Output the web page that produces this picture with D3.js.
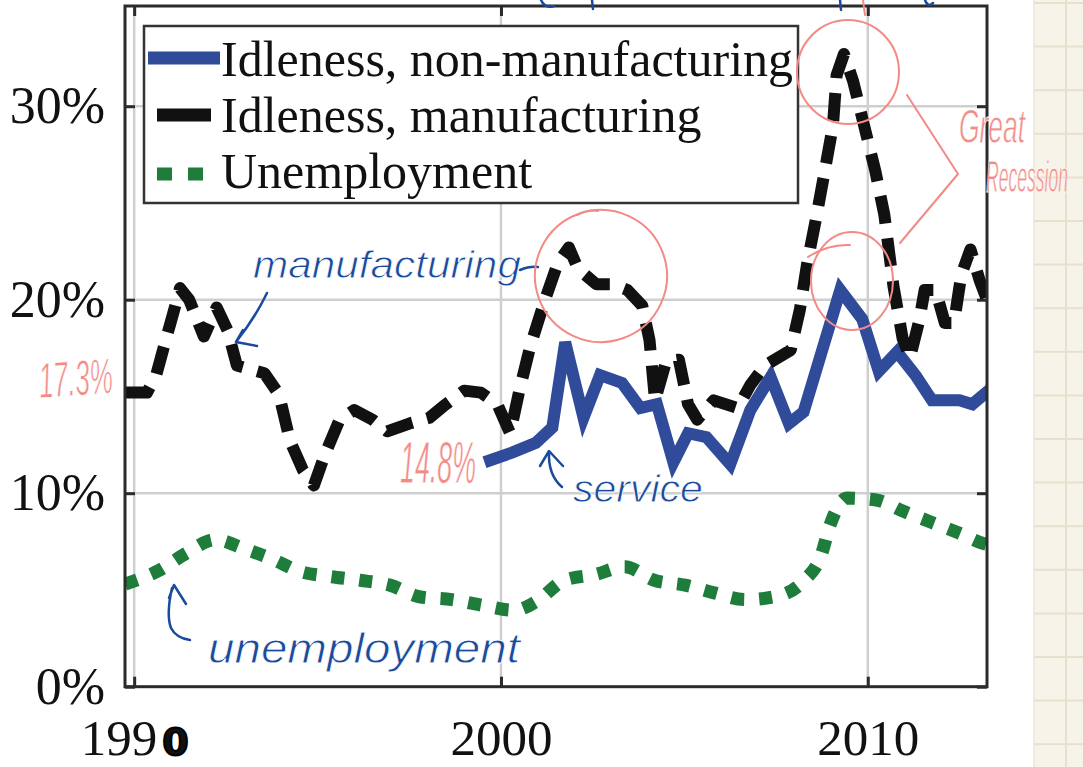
<!DOCTYPE html>
<html>
<head>
<meta charset="utf-8">
<script src="https://cdn.jsdelivr.net/npm/d3@7"></script>
<style>
  body { margin: 0; background: #fff; overflow: hidden; }
</style>
</head>
<body>
<div id="chart"></div>
<script>
const width = 1083;
const height = 767;

// data (year, percent)
const manufYears = [1989.75, 1990.35, 1990.6, 1990.8, 1991.05, 1991.25, 1991.5, 1991.9, 1992.25, 1992.55, 1992.8, 1993.55, 1993.95, 1994.25, 1994.6, 1994.9, 1995.2, 1995.6, 1996.0, 1996.5, 1996.9, 1997.5, 1998.05, 1998.5, 1999.0, 1999.45, 1999.9, 2000.25, 2000.5, 2000.8, 2001.2, 2001.55, 2001.85, 2002.1, 2002.6, 2003.05, 2003.45, 2003.85, 2004.05, 2004.2, 2004.5, 2004.85, 2005.1, 2005.35, 2005.8, 2006.45, 2006.8, 2007.2, 2007.9, 2008.15, 2008.35, 2008.6, 2008.85, 2009.05, 2009.15, 2009.35, 2009.6, 2009.9, 2010.2, 2010.45, 2010.7, 2010.95, 2011.15, 2011.4, 2011.55, 2011.85, 2012.1, 2012.35, 2012.55, 2012.8, 2013.05, 2013.25];
const manufValues = [15.2, 15.2, 16.1, 17.5, 19.2, 20.6, 20.0, 18.1, 19.6, 18.4, 16.6, 16.2, 15.1, 12.7, 11.2, 10.4, 12.0, 13.8, 14.3, 13.8, 13.2, 13.6, 13.9, 14.6, 15.3, 15.2, 14.6, 13.1, 15.3, 17.6, 20.0, 21.9, 22.7, 21.6, 20.8, 20.8, 20.5, 19.7, 17.9, 14.8, 16.8, 16.9, 14.6, 13.8, 14.8, 14.4, 15.6, 16.6, 17.4, 19.5, 21.9, 24.3, 26.9, 29.0, 31.6, 32.7, 31.3, 29.0, 26.7, 24.4, 20.7, 18.0, 17.0, 18.9, 20.5, 20.5, 18.8, 18.8, 21.3, 22.6, 21.0, 20.0];

const serviceYears = [1999.55, 2000.3, 2000.95, 2001.4, 2001.75, 2002.25, 2002.7, 2003.3, 2003.8, 2004.25, 2004.7, 2005.1, 2005.6, 2006.25, 2006.8, 2007.35, 2007.85, 2008.25, 2009.25, 2009.85, 2010.3, 2010.8, 2011.3, 2011.75, 2012.5, 2012.85, 2013.35];
const serviceValues = [11.6, 12.1, 12.6, 13.4, 17.8, 13.9, 16.1, 15.7, 14.4, 14.6, 11.6, 13.1, 12.9, 11.5, 14.3, 16.0, 13.6, 14.2, 20.5, 19.0, 16.3, 17.3, 16.1, 14.8, 14.8, 14.6, 15.4];

const unempYears = [1989.75, 1990.67, 1991.42, 1992.22, 1992.97, 1993.76, 1994.53, 1995.32, 1996.16, 1996.97, 1997.77, 1998.66, 1999.51, 2000.35, 2001.0, 2001.72, 2002.57, 2003.37, 2004.18, 2005.02, 2005.81, 2006.66, 2007.46, 2008.27, 2008.73, 2008.97, 2009.44, 2010.23, 2010.99, 2011.73, 2012.54, 2013.15, 2013.25];
const unempValues = [5.3, 6.0, 6.9, 7.6, 7.15, 6.6, 5.95, 5.7, 5.5, 5.25, 4.65, 4.5, 4.2, 3.95, 4.45, 5.5, 5.8, 6.2, 5.5, 5.25, 4.85, 4.5, 4.65, 5.5, 6.8, 8.35, 9.75, 9.65, 9.05, 8.5, 7.9, 7.4, 7.35];

const xTicks = [1990, 2000, 2010];
const yTicks = [0, 10, 20, 30];
const legendLabels = ["Idleness, non-manufacturing", "Idleness, manufacturing", "Unemployment"];

const blue = "#2f4b9a";
const black = "#111111";
const green = "#1f7d3b";
const pink = "#f28a86";
const ink = "#1a4a9c";
const serif = "'Liberation Serif', 'Times New Roman', serif";
const hand = "'Liberation Sans', 'DejaVu Sans', sans-serif";

const svg = d3.select("#chart").append("svg")
  .attr("width", width).attr("height", height);

svg.append("rect").attr("width", width).attr("height", height).attr("fill", "#fff");

// grid paper strip on the right
const paper = svg.append("g");
paper.append("rect").attr("x", 1034).attr("y", 0).attr("width", 49).attr("height", height).attr("fill", "#f6f4e8");
paper.append("line").attr("x1", 1034).attr("x2", 1034).attr("y1", 0).attr("y2", height).attr("stroke", "#ebe7d6").attr("stroke-width", 1.5);
paper.append("line").attr("x1", 1066).attr("x2", 1066).attr("y1", 0).attr("y2", height).attr("stroke", "#e6e1cc").attr("stroke-width", 2);
paper.selectAll("line.h").data(d3.range(0, 18)).join("line").attr("class", "h")
  .attr("x1", 1034).attr("x2", width)
  .attr("y1", d => 3 + d * 43.6).attr("y2", d => 3 + d * 43.6)
  .attr("stroke", "#e6e1cc").attr("stroke-width", 2);

const x = d3.scaleLinear().domain([1989.75, 2013.25]).range([125, 987]);
const y = d3.scaleLinear().domain([0, 35.18]).range([686.7, 6]);

// grid
svg.append("g").selectAll("line").data(xTicks).join("line")
  .attr("x1", d => x(d)).attr("x2", d => x(d)).attr("y1", y.range()[1]).attr("y2", y.range()[0])
  .attr("stroke", "#cfcfcf").attr("stroke-width", 2.5);
svg.append("g").selectAll("line").data(yTicks.filter(d => d > 0)).join("line")
  .attr("y1", d => y(d)).attr("y2", d => y(d)).attr("x1", x.range()[0]).attr("x2", x.range()[1])
  .attr("stroke", "#cfcfcf").attr("stroke-width", 2.5);

// axes (ticks inside)
const styleAxis = g => {
  g.select(".domain").remove();
  g.selectAll(".tick line").attr("stroke", "#2b2b2b").attr("stroke-width", 3);
  g.selectAll(".tick text").attr("font-family", serif).attr("font-size", 51).attr("fill", "#111");
};
const xAxisG = svg.append("g").attr("transform", `translate(0,${y(0)})`)
  .call(d3.axisBottom(x).tickValues(xTicks).tickSize(-10).tickPadding(32).tickFormat(d3.format("d")))
  .call(styleAxis);
svg.append("g").attr("transform", `translate(0,${y.range()[1]})`)
  .call(d3.axisTop(x).tickValues(xTicks).tickSize(-10).tickFormat(""))
  .call(styleAxis);
svg.append("g").attr("transform", `translate(${x.range()[0]},0)`)
  .call(d3.axisLeft(y).tickValues(yTicks).tickSize(-10).tickPadding(20).tickFormat(d => d + "%"))
  .call(styleAxis).selectAll(".tick text").attr("font-size", 52);
svg.append("g").attr("transform", `translate(${x.range()[1]},0)`)
  .call(d3.axisRight(y).tickValues(yTicks).tickSize(-10).tickFormat(""))
  .call(styleAxis);

// the last 0 of 1990 is overwritten by hand
xAxisG.selectAll(".tick text").filter(d => d === 1990).each(function () {
  const t = d3.select(this).text("199");
  t.append("tspan").text("0")
    .attr("font-family", "'DejaVu Sans', sans-serif").attr("font-weight", "bold")
    .attr("font-size", 38).attr("stroke", "#000").attr("stroke-width", 2).attr("dx", 5);
});

// series
svg.append("clipPath").attr("id", "plot").append("rect")
  .attr("x", x.range()[0]).attr("y", y.range()[1])
  .attr("width", x.range()[1] - x.range()[0]).attr("height", y.range()[0] - y.range()[1]);

const plot = svg.append("g").attr("clip-path", "url(#plot)");
const line = d3.line().x(d => x(d[0])).y(d => y(d[1]));

plot.append("path").datum(d3.zip(serviceYears, serviceValues))
  .attr("d", line).attr("fill", "none").attr("stroke", blue).attr("stroke-width", 12)
  .attr("stroke-linejoin", "miter");
plot.append("path").datum(d3.zip(manufYears, manufValues))
  .attr("d", line).attr("fill", "none").attr("stroke", black).attr("stroke-width", 12)
  .attr("stroke-dasharray", "28,15").attr("stroke-linejoin", "round");
plot.append("path").datum(d3.zip(unempYears, unempValues))
  .attr("d", line.curve(d3.curveMonotoneX)).attr("fill", "none").attr("stroke", green).attr("stroke-width", 13)
  .attr("stroke-dasharray", "13,15");

// frame
svg.append("rect")
  .attr("x", x.range()[0]).attr("y", y.range()[1])
  .attr("width", x.range()[1] - x.range()[0]).attr("height", y.range()[0] - y.range()[1])
  .attr("fill", "none").attr("stroke", "#2b2b2b").attr("stroke-width", 3);

// legend
const legend = svg.append("g");
legend.append("rect").attr("x", 144).attr("y", 26).attr("width", 654).attr("height", 177)
  .attr("fill", "#fff").attr("stroke", "#333").attr("stroke-width", 2.5);
const rowY = [58, 115, 174];
const baseY = [76, 132, 188];
legend.append("line").attr("x1", 148).attr("x2", 220).attr("y1", rowY[0]).attr("y2", rowY[0])
  .attr("stroke", blue).attr("stroke-width", 13);
legend.append("line").attr("x1", 157).attr("x2", 211).attr("y1", rowY[1]).attr("y2", rowY[1])
  .attr("stroke", black).attr("stroke-width", 13);
legend.append("line").attr("x1", 157).attr("x2", 203).attr("y1", rowY[2]).attr("y2", rowY[2])
  .attr("stroke", green).attr("stroke-width", 13).attr("stroke-dasharray", "15,16");
legend.selectAll("text").data(legendLabels).join("text")
  .attr("x", 221).attr("y", (d, i) => baseY[i])
  .attr("font-family", serif).attr("font-size", 50).attr("fill", "#111")
  .text(d => d);

// handwritten notes: squeezed horizontally with a transform so the text box stays true
const notes = svg.append("g").attr("fill", "none").attr("stroke-linecap", "round").attr("stroke-linejoin", "round");
const handText = (txt, tx, ty, size, len, color, rot) => {
  const t = svg.append("text").attr("x", 0).attr("y", 0)
    .attr("font-family", hand).attr("font-style", "italic").attr("font-size", size)
    .attr("fill", color).attr("stroke", "#fff").attr("stroke-width", 0.8)
    .text(txt);
  const w = t.node().getComputedTextLength() || len;
  t.attr("transform", `translate(${tx},${ty}) rotate(${rot || 0}) scale(${len / w},1)`);
};

handText("manufacturing", 253, 278, 38, 268, ink);
notes.append("path").attr("d", "M520,270 Q530,266 538,267").attr("stroke", ink).attr("stroke-width", 2.5);
notes.append("path").attr("d", "M267,293 Q255,318 236,342 M236,342 L257,346 M236,342 L243,330").attr("stroke", ink).attr("stroke-width", 2.5);

handText("service", 573, 502, 38, 130, ink);
notes.append("path").attr("d", "M540,466 L549,451 L563,466 M549,452 Q548,475 562,487").attr("stroke", ink).attr("stroke-width", 2.5);

handText("unemployment", 208, 663, 42, 312, ink);
notes.append("path").attr("d", "M169,598 L174,585 L186,604 M172,588 Q166,615 171,628 Q176,638 190,640").attr("stroke", ink).attr("stroke-width", 2.5);

// cut-off pen marks along the top edge
notes.append("path").attr("d", "M541,0 Q545,9 554,6 M592,0 L593,9 M840,0 L841,10 M925,0 Q928,8 933,3").attr("stroke", ink).attr("stroke-width", 2.5);

handText("17.3%", 40, 398, 50, 74, pink, -4);
handText("14.8%", 400, 483, 60, 76, pink);

notes.append("ellipse").attr("cx", 601).attr("cy", 276).attr("rx", 66).attr("ry", 66)
  .attr("transform", "rotate(-20,601,276)").attr("stroke", pink).attr("stroke-width", 2);
notes.append("path").attr("d", "M577,215 Q588,209 598,211").attr("stroke", pink).attr("stroke-width", 2);
notes.append("ellipse").attr("cx", 848).attr("cy", 72).attr("rx", 51).attr("ry", 52)
  .attr("stroke", pink).attr("stroke-width", 2);
notes.append("path").attr("d", "M863,0 L865,15").attr("stroke", pink).attr("stroke-width", 2);
notes.append("ellipse").attr("cx", 852).attr("cy", 281).attr("rx", 41).attr("ry", 49)
  .attr("stroke", pink).attr("stroke-width", 2);
notes.append("path").attr("d", "M808,257 Q828,244 850,245").attr("stroke", pink).attr("stroke-width", 2);
notes.append("path").attr("d", "M907,95 L958,174 L900,243").attr("stroke", pink).attr("stroke-width", 2);

handText("Great", 959, 143, 48, 66, pink);
handText("Recession", 986, 192, 44, 82, pink);
</script>
</body>
</html>
